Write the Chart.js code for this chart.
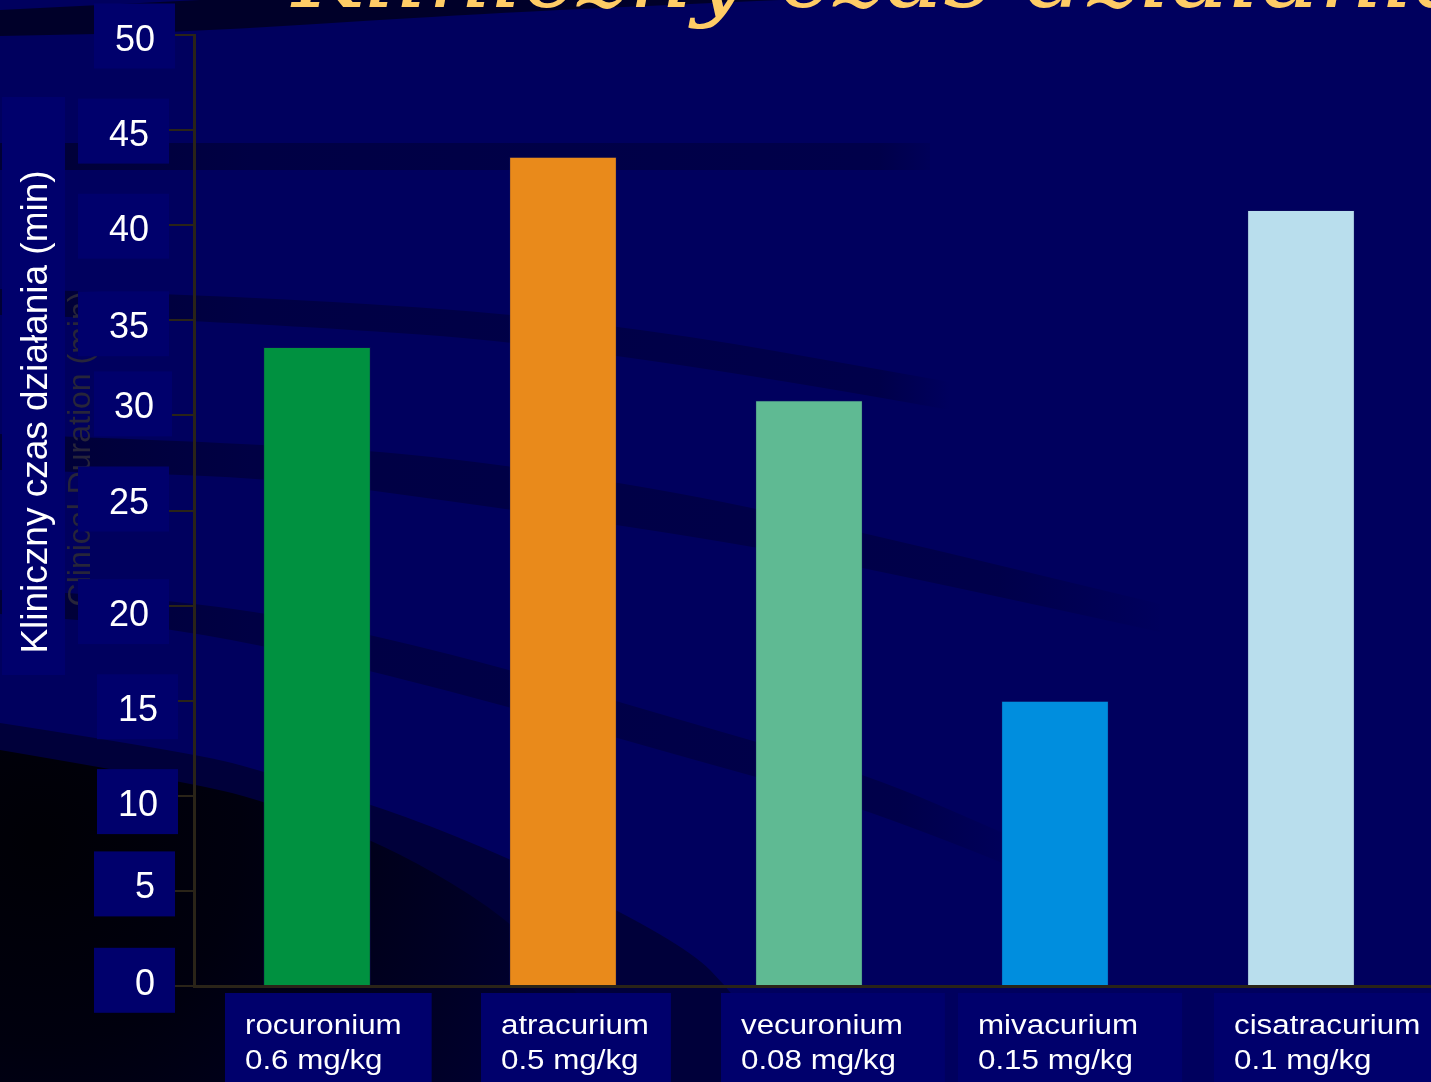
<!DOCTYPE html>
<html lang="pl">
<head>
<meta charset="utf-8">
<title>Kliniczny czas działania</title>
<script src="https://cdn.jsdelivr.net/npm/chart.js@4/dist/chart.umd.min.js"></script>
<style>
  html, body { margin: 0; padding: 0; background: #00005e; overflow: hidden; }
  canvas { display: block; }
</style>
</head>
<body>
<canvas id="chart" width="1431" height="1082"></canvas>
<script>
// ---- data ----
const drugs = ['rocuronium', 'atracurium', 'vecuronium', 'mivacurium', 'cisatracurium'];
const doses = ['0.6 mg/kg', '0.5 mg/kg', '0.08 mg/kg', '0.15 mg/kg', '0.1 mg/kg'];
const durations = [33.6, 43.6, 30.8, 15.0, 40.8];
const barColors = ['#009140', '#e98a1b', '#5fba93', '#008ede', '#b9deed'];
const yTickValues = [0, 5, 10, 15, 20, 25, 30, 35, 40, 45, 50];

const titleText = 'Kliniczny czas działania';
const yTitleText = 'Kliniczny czas działania (min)';
const yTitleShadowText = 'Clinical Duration (min)';

// ---- label placement (layout only) ----
// per y tick (0..50): [vertical nudge, text right edge, box left, box right]
const yLabelPlacement = [
  [-4.2, 154, 94, 175], [-5.5, 154, 94, 175], [7.3, 157, 97, 178], [7.5, 157, 97, 178],
  [7.5, 148, 78, 169], [-10, 148, 78, 169], [-10, 153, 94, 172], [5, 148, 78, 169],
  [2.5, 148, 78, 169], [2.5, 148, 78, 169], [2.5, 154, 94, 175]
];
// per category: text offset from bar centre, box padding right
const xLabelShift = [-72, -62, -68, -77, -67];
const xBoxPadRight = [30, 22, 42, 44, 0];

const NAVY = '#00005e';
const BOX = '#00006c';
const AXIS = '#2a2418';
const BAND = '0,0,42';

function smoothPath(ctx, pts, move) {
  if (move) ctx.moveTo(pts[0][0], pts[0][1]); else ctx.lineTo(pts[0][0], pts[0][1]);
  for (let i = 1; i < pts.length - 1; i++) {
    const mx = (pts[i][0] + pts[i + 1][0]) / 2, my = (pts[i][1] + pts[i + 1][1]) / 2;
    ctx.quadraticCurveTo(pts[i][0], pts[i][1], mx, my);
  }
  const l = pts[pts.length - 1];
  ctx.lineTo(l[0], l[1]);
}

// a dark sweep that is strongest on the left and fades out to the right
function band(ctx, top, bottom, fadeFrom, fadeTo) {
  const g = ctx.createLinearGradient(0, 0, fadeTo, 0);
  g.addColorStop(0, `rgba(${BAND},0.8)`);
  g.addColorStop(Math.min(0.99, 250 / fadeTo), `rgba(${BAND},0.5)`);
  g.addColorStop(fadeFrom / fadeTo, `rgba(${BAND},0.38)`);
  g.addColorStop(1, `rgba(${BAND},0)`);
  ctx.beginPath();
  smoothPath(ctx, top, true);
  smoothPath(ctx, bottom.slice().reverse(), false);
  ctx.closePath();
  ctx.fillStyle = g;
  ctx.fill();
}

// slide backdrop: navy field with dark sweeping bands
const backdrop = {
  id: 'backdrop',
  beforeDraw(chart) {
    const ctx = chart.ctx, W = chart.width, H = chart.height;
    ctx.save();
    ctx.fillStyle = NAVY;
    ctx.fillRect(0, 0, W, H);

    // top-left corner sweep
    ctx.beginPath();
    ctx.moveTo(0, 10);
    ctx.lineTo(200, 0);
    ctx.lineTo(780, 0);
    smoothPath(ctx, [[780, 0], [500, 12], [195, 32], [0, 36]], false);
    ctx.closePath();
    ctx.fillStyle = 'rgba(0,0,36,0.9)';
    ctx.fill();

    band(ctx, [[0, 143], [930, 143]], [[0, 170], [930, 170]], 880, 950);
    band(ctx, [[0, 289], [240, 295], [600, 320], [950, 382]],
              [[0, 315], [240, 322], [600, 347], [950, 410]], 880, 950);
    band(ctx, [[0, 434], [270, 444], [450, 457], [680, 492], [865, 533], [1160, 604]],
              [[0, 470], [270, 477], [450, 501], [680, 534], [865, 567], [1160, 632]], 1000, 1170);
    band(ctx, [[0, 590], [194, 597], [450, 652], [680, 720], [865, 773], [1010, 836]],
              [[0, 614], [194, 629], [450, 690], [680, 756], [865, 807], [1010, 866]], 900, 1030);

    // darker lower-left sweep
    ctx.beginPath();
    smoothPath(ctx, [[0, 723], [194, 753], [270, 773], [450, 830], [680, 940], [740, 1000], [790, 1082]], true);
    ctx.lineTo(0, H);
    ctx.closePath();
    ctx.fillStyle = '#00003a';
    ctx.fill();

    ctx.beginPath();
    smoothPath(ctx, [[0, 750], [194, 783], [270, 803], [400, 850], [540, 940], [640, 1082]], true);
    ctx.lineTo(0, H);
    ctx.closePath();
    const rg = ctx.createRadialGradient(40, 840, 10, 40, 840, 560);
    rg.addColorStop(0, '#000006');
    rg.addColorStop(0.35, '#00000e');
    rg.addColorStop(0.75, '#000024');
    rg.addColorStop(1, '#000034');
    ctx.fillStyle = rg;
    ctx.fill();
    ctx.restore();
  }
};

// boxed tick labels, axis titles and slide title
const annotations = {
  id: 'annotations',
  afterDraw(chart) {
    const ctx = chart.ctx, W = chart.width;
    const ys = chart.scales.y, xs = chart.scales.x, area = chart.chartArea;
    ctx.save();

    // x axis line runs on to the edge of the slide
    ctx.strokeStyle = AXIS;
    ctx.lineWidth = 3;
    ctx.beginPath();
    ctx.moveTo(area.right - 2, area.bottom + 0.5);
    ctx.lineTo(W, area.bottom + 0.5);
    ctx.stroke();

    // faint English axis caption behind the tick labels
    ctx.save();
    ctx.translate(90, 449);
    ctx.rotate(-Math.PI / 2);
    ctx.font = '32px "Liberation Sans", Arial, sans-serif';
    ctx.fillStyle = '#27253a';
    ctx.textAlign = 'center';
    ctx.textBaseline = 'alphabetic';
    ctx.fillText(yTitleShadowText, 0, 0);
    ctx.restore();

    // y tick labels on navy boxes
    ctx.font = '36px "Liberation Sans", Arial, sans-serif';
    ctx.textAlign = 'right';
    ctx.textBaseline = 'alphabetic';
    ys.ticks.forEach((t, i) => {
      const p = yLabelPlacement[i] || [0, 150, 80, 172];
      const cy = ys.getPixelForValue(t.value) + p[0];
      ctx.fillStyle = BOX;
      ctx.fillRect(p[2], cy - 1.5 - 32.5, p[3] - p[2], 65);
      ctx.fillStyle = '#ffffff';
      ctx.fillText(String(t.value), p[1] + 1, cy + 13);
    });

    // y axis title
    ctx.fillStyle = BOX;
    ctx.fillRect(2, 97, 63, 578);
    ctx.save();
    ctx.translate(47, 412);
    ctx.rotate(-Math.PI / 2);
    ctx.font = '37px "Liberation Sans", Arial, sans-serif';
    ctx.fillStyle = '#ffffff';
    ctx.textAlign = 'center';
    ctx.fillText(yTitleText, 0, 0);
    ctx.restore();

    // category labels: name and dose, left aligned, on navy boxes
    const stretch = 1.16;
    ctx.font = '27px "Liberation Sans", Arial, sans-serif';
    drugs.forEach((name, i) => {
      const cx = xs.getPixelForValue(i);
      const left = cx + xLabelShift[i];
      const w = Math.max(ctx.measureText(name).width, ctx.measureText(doses[i]).width) * stretch;
      const boxRight = i === drugs.length - 1 ? W : left + w + xBoxPadRight[i];
      ctx.fillStyle = BOX;
      ctx.fillRect(left - 20, 993, boxRight - (left - 20), chart.height - 993);
      ctx.save();
      ctx.translate(left, 0);
      ctx.scale(stretch, 1);
      ctx.fillStyle = '#ffffff';
      ctx.textAlign = 'left';
      ctx.fillText(name, 0, 1034);
      ctx.fillText(doses[i], 0, 1069);
      ctx.restore();
    });

    // slide title (runs off the top edge)
    ctx.font = 'italic 98px "DejaVu Serif", serif';
    ctx.fillStyle = '#ffcc66';
    ctx.textAlign = 'left';
    ctx.fillText(titleText, 292, 7);
    ctx.restore();
  }
};

new Chart(document.getElementById('chart'), {
  type: 'bar',
  data: {
    labels: drugs.map((d, i) => [d, doses[i]]),
    datasets: [{
      data: durations,
      backgroundColor: barColors,
      borderColor: 'rgba(20,20,90,0.45)',
      borderWidth: 1,
      categoryPercentage: 1,
      barPercentage: 0.438
    }]
  },
  options: {
    responsive: false,
    devicePixelRatio: 1,
    animation: false,
    events: [],
    layout: { padding: { left: 0, top: 35, right: 7, bottom: 0 } },
    plugins: { legend: { display: false }, tooltip: { enabled: false }, title: { display: false } },
    scales: {
      x: {
        ticks: { display: false },
        grid: { display: false },
        border: { display: true, color: AXIS, width: 3, z: 1 },
        afterFit(s) { s.height = 96; }
      },
      y: {
        min: 0,
        max: 50,
        afterBuildTicks(s) { s.ticks = yTickValues.map(v => ({ value: v })); },
        ticks: { display: false },
        grid: { drawOnChartArea: false, drawTicks: true, tickLength: 30, color: AXIS, lineWidth: 2 },
        border: { display: true, color: AXIS, width: 3, z: 1 },
        afterFit(s) { s.width = 194; }
      }
    }
  },
  plugins: [backdrop, annotations]
});
</script>
</body>
</html>
